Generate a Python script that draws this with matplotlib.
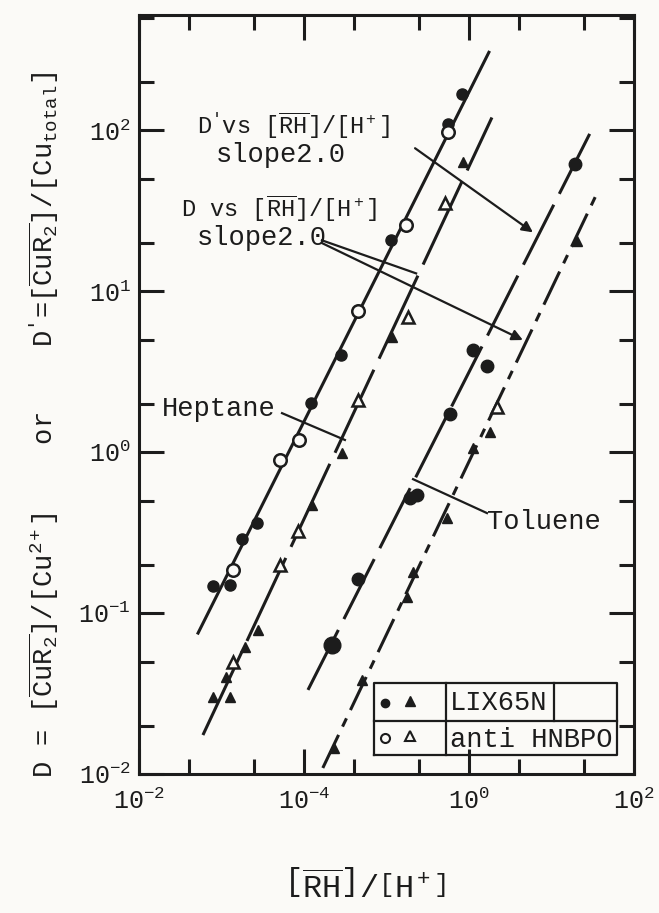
import numpy as np
import matplotlib
matplotlib.use('Agg')
import matplotlib.pyplot as plt
from matplotlib.ticker import FixedLocator, NullFormatter

plt.rcParams['font.family'] = ['Liberation Mono', 'DejaVu Sans']
plt.rcParams['mathtext.fontset'] = 'custom'
plt.rcParams['mathtext.rm'] = 'Liberation Mono'
plt.rcParams['mathtext.it'] = 'Liberation Mono'
plt.rcParams['mathtext.bf'] = 'Liberation Mono:bold'

INK = '#1c1c1c'
PAPER = '#fbfaf7'

# ── Heptane, circles (line A) ─────────────────────────────
a_line_x = [0.0228, 1.32]
a_line_y = [0.0751, 305]
a_fill_x = [0.908, 0.746, 0.337, 0.1675, 0.110, 0.0519, 0.0421, 0.0281, 0.0357]
a_fill_y = [167, 110, 20.7, 4.0, 2.01, 0.362, 0.288, 0.147, 0.149]
a_open_x = [0.746, 0.415, 0.212, 0.0933, 0.0716, 0.0371]
a_open_y = [97.2, 25.7, 7.5, 1.19, 0.892, 0.185]

# ── Heptane, triangles (line B) ───────────────────────────
b_line_x = [0.0244, 1.377]
b_line_y = [0.01746, 120]
b_fill_x = [0.920, 0.341, 0.170, 0.1117, 0.0526, 0.0439, 0.0337, 0.0281, 0.0357]
b_fill_y = [63.3, 5.18, 0.986, 0.469, 0.0784, 0.0615, 0.040, 0.0301, 0.0301]
b_open_x = [0.716, 0.427, 0.212, 0.092, 0.0716, 0.0371]
b_open_y = [35.2, 6.9, 2.10, 0.323, 0.199, 0.0497]

# ── Toluene, circles (line C) ─────────────────────────────
c_line_x = [0.1057, 5.65]
c_line_y = [0.0333, 104.5]
c_fill_x = [4.39, 1.057, 1.285, 0.767, 0.438, 0.484, 0.212]
c_fill_y = [61.5, 4.30, 3.42, 1.72, 0.518, 0.541, 0.163]
c_big_x = [0.148]
c_big_y = [0.0633]

# ── Toluene, triangles (line D) ───────────────────────────
d_line_x = [0.130, 5.97]
d_line_y = [0.0109, 40.6]
d_fill_x = [4.51, 1.34, 1.057, 0.736, 0.458, 0.421, 0.225, 0.152]
d_fill_y = [20.5, 1.33, 1.06, 0.389, 0.180, 0.1257, 0.0384, 0.0145]
d_open_x = [1.478]
d_open_y = [1.90]

x_ticks = [1e-2, 1e-1, 1e0, 1e1]
x_tick_labels = [r'$10^{-2}$', r'$10^{-4}$', r'$10^{0}$', r'$10^{2}$']
y_ticks = [1e-2, 1e-1, 1e0, 1e1, 1e2]
y_tick_labels = [r'$10^{-2}$', r'$10^{-1}$', r'$10^{0}$', r'$10^{1}$', r'$10^{2}$']


def main():
    fig = plt.figure(figsize=(6.59, 9.13), dpi=100, facecolor=PAPER)
    ax = fig.add_axes([139 / 659, 1 - 774 / 913, 495 / 659, 759 / 913])
    ax.set_facecolor(PAPER)
    ax.set_xscale('log')
    ax.set_yscale('log')
    ax.set_xlim(1e-2, 1e1)
    ax.set_ylim(1e-2, 5.2e2)

    lw = 2.2
    ax.plot(a_line_x, a_line_y, color=INK, lw=lw, zorder=2)
    ax.plot(b_line_x, b_line_y, color=INK, lw=lw, dashes=(30, 4), zorder=2)
    ax.plot(c_line_x, c_line_y, color=INK, lw=lw, dashes=(22, 4), zorder=2)
    ax.plot(d_line_x, d_line_y, color=INK, lw=lw, dashes=(12, 3, 3, 3), zorder=2)

    ax.plot(a_fill_x, a_fill_y, 'o', ms=8, mfc=INK, mec=INK, zorder=3)
    ax.plot(a_open_x, a_open_y, 'o', ms=9, mfc=PAPER, mec=INK, mew=1.8, zorder=3)
    ax.plot(b_fill_x, b_fill_y, '^', ms=7.5, mfc=INK, mec=INK, zorder=3)
    ax.plot(b_open_x, b_open_y, '^', ms=8, mfc=PAPER, mec=INK, mew=1.8, zorder=3)
    ax.plot(c_fill_x, c_fill_y, 'o', ms=9, mfc=INK, mec=INK, zorder=3)
    ax.plot(c_big_x, c_big_y, 'o', ms=12, mfc=INK, mec=INK, zorder=3)
    ax.plot(d_fill_x, d_fill_y, '^', ms=7.5, mfc=INK, mec=INK, zorder=3)
    ax.plot(d_open_x, d_open_y, '^', ms=8, mfc=PAPER, mec=INK, mew=1.8, zorder=3)

    # ── Annotations ───────────────────────────────────────────
    fm = 17     # lines with brackets
    fs = 19.5   # plain typewriter text
    ax.text(0.0225, 107, r"D$'$vs $[\overline{\mathrm{RH}}]/[\mathrm{H}^+]$",
            fontsize=fm, color=INK, va='center', ha='left')
    ax.text(0.0293, 70, 'slope2.0', fontsize=fs, color=INK, va='center')
    ax.text(0.018, 32.8, r"D vs $[\overline{\mathrm{RH}}]/[\mathrm{H}^+]$",
            fontsize=fm, color=INK, va='center', ha='left')
    ax.text(0.0225, 21.3, 'slope2.0', fontsize=fs, color=INK, va='center')
    ax.text(0.01377, 1.85, 'Heptane', fontsize=fs, color=INK, va='center')
    ax.text(1.285, 0.367, 'Toluene', fontsize=fs, color=INK, va='center')

    arrow = dict(arrowstyle='-|>', lw=1.6, color=INK, mutation_scale=16,
                 shrinkA=0, shrinkB=0)
    ax.annotate('', xy=(2.44, 23.2), xytext=(0.471, 77.3), arrowprops=arrow)
    ax.annotate('', xy=(2.12, 4.97), xytext=(0.1285, 19.9), arrowprops=arrow)
    ax.plot([0.1285, 0.478], [20.7, 12.9], color=INK, lw=1.6)
    ax.plot([0.0736, 0.177], [1.746, 1.19], color=INK, lw=1.6)
    ax.plot([0.458, 1.285], [0.679, 0.418], color=INK, lw=1.6)

    # ── Legend box ───────────────────────────────────────────
    T = ax.transAxes
    box = dict(color=INK, lw=1.6, transform=T, clip_on=False)
    ax.plot([0.475, 0.966, 0.966, 0.475, 0.475],
            [0.025, 0.025, 0.120, 0.120, 0.025], **box)
    ax.plot([0.620, 0.620], [0.025, 0.120], **box)
    ax.plot([0.475, 0.966], [0.070, 0.070], **box)
    ax.plot([0.838, 0.838], [0.070, 0.120], **box)
    ax.plot([0.497], [0.094], 'o', ms=6, mfc=INK, mec=INK, transform=T)
    ax.plot([0.548], [0.096], '^', ms=6.5, mfc=INK, mec=INK, transform=T)
    ax.plot([0.497], [0.048], 'o', ms=6.5, mfc=PAPER, mec=INK, mew=1.5, transform=T)
    ax.plot([0.548], [0.050], '^', ms=7, mfc=PAPER, mec=INK, mew=1.5, transform=T)
    ax.text(0.628, 0.094, 'LIX65N', fontsize=fs, color=INK, va='center', transform=T)
    ax.text(0.628, 0.045, 'anti HNBPO', fontsize=fs, color=INK, va='center', transform=T)

    # ── Axes, ticks ──────────────────────────────────────────
    for sp in ax.spines.values():
        sp.set_linewidth(2.2)
        sp.set_color(INK)
    ax.xaxis.set_major_locator(FixedLocator(x_ticks))
    ax.xaxis.set_minor_locator(FixedLocator(
        [m * d for d in x_ticks[:-1] for m in (2, 5)]))
    ax.yaxis.set_major_locator(FixedLocator(y_ticks))
    ax.yaxis.set_minor_locator(FixedLocator(
        [m * d for d in y_ticks for m in (2, 5)]))
    ax.set_xticklabels(x_tick_labels)
    ax.set_yticklabels(y_tick_labels)
    ax.xaxis.set_minor_formatter(NullFormatter())
    ax.yaxis.set_minor_formatter(NullFormatter())
    ax.tick_params(which='both', direction='in', top=True, right=True,
                   color=INK, width=2.2, labelsize=18, labelcolor=INK)
    ax.tick_params(which='major', length=18)
    ax.tick_params(which='minor', length=11)
    ax.tick_params(axis='x', which='major', pad=10)
    ax.tick_params(axis='y', which='major', pad=6)

    fig.text(0.066, 0.535,
             r"D = $[\overline{\mathrm{CuR}_2}]/[\mathrm{Cu}^{2+}]$    or    "
             r"D$'$=$[\overline{\mathrm{CuR}_2}]/[\mathrm{Cu}_{\mathrm{total}}]$",
             rotation=90, ha='center', va='center', fontsize=19.5, color=INK)
    fig.text(0.554, 0.028,
             r"$\left[\overline{\mathrm{RH}}\right]/\left[\mathrm{H}^+\right]$",
             ha='center', va='center', fontsize=23, color=INK)

    fig.savefig('out.png', dpi=100, facecolor=PAPER)


if __name__ == '__main__':
    main()
